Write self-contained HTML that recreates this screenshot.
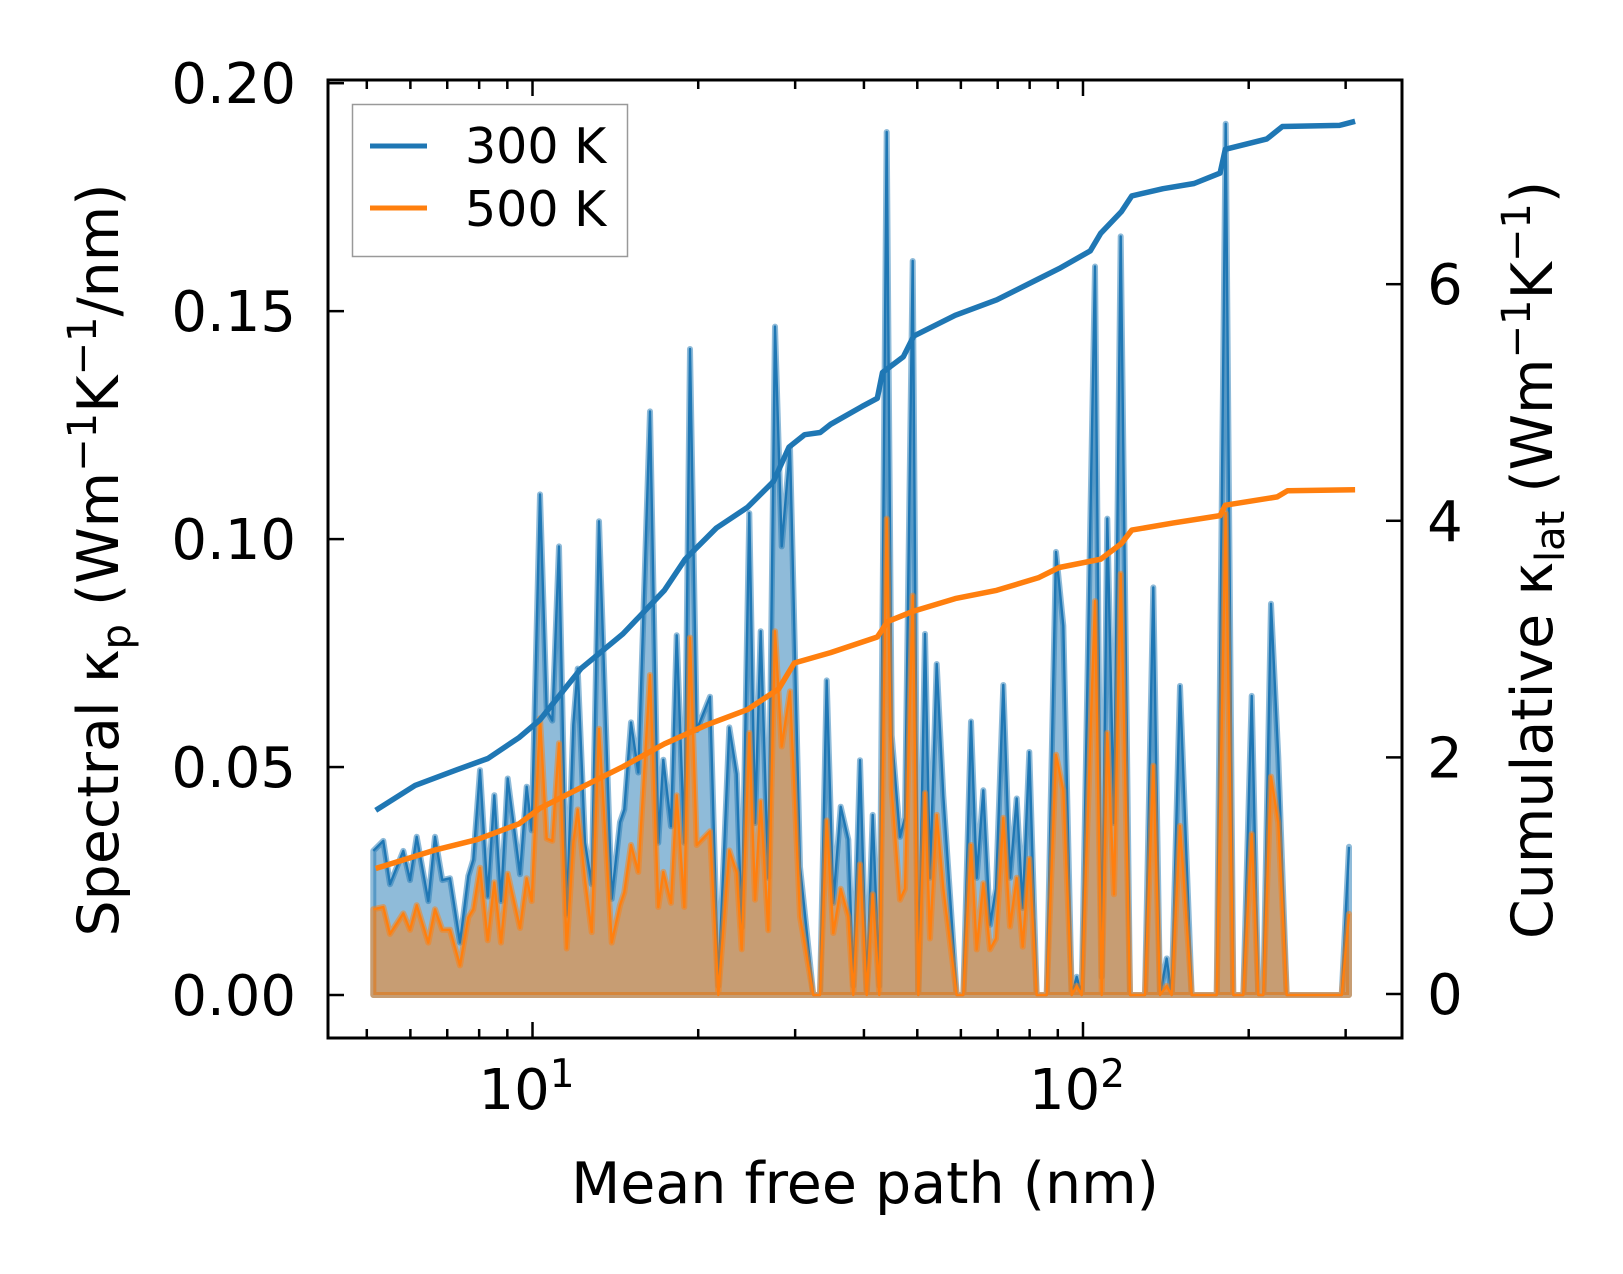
<!DOCTYPE html>
<html><head><meta charset="utf-8"><style>
html,body{margin:0;padding:0;background:#fff;}
svg{display:block;font-family:"DejaVu Sans","Liberation Sans",sans-serif;}
</style></head><body>
<svg id="chart" width="1623" height="1274" viewBox="0 0 1623 1274" xmlns="http://www.w3.org/2000/svg"></svg>
<script>
// log10 of mean free path (nm)
const logMfp = [0.7108,0.7290,0.7411,0.7653,0.7775,0.7896,0.8107,0.8229,0.8362,0.8501,0.8683,0.8834,0.8925,0.9046,0.9186,0.9306,0.9428,0.9550,0.9773,0.9895,0.9985,1.0136,1.0258,1.0360,1.0481,1.0621,1.0741,1.0821,1.0954,1.1075,1.1208,1.1438,1.1589,1.1668,1.1789,1.1922,1.2134,1.2285,1.2376,1.2516,1.2619,1.2757,1.2861,
1.2983,1.3224,1.3375,1.3575,1.3709,1.3800,1.3938,1.4042,1.4145,1.4283,1.4405,1.4527,1.4678,1.4859,1.5101,1.5223,1.5344,1.5464,1.5599,1.5737,1.5827,1.5949,1.6071,1.6180,1.6300,1.6434,1.6525,1.6676,1.6767,1.6906,1.7008,1.7130,1.7221,1.7343,1.7462,1.7706,1.7826,1.7965,1.8069,1.8189,1.8311,1.8420,1.8552,1.8674,1.8796,1.8905,1.9024,
1.9159,1.9341,1.9510,1.9642,1.9795,1.9886,1.9976,2.0218,2.0340,2.0441,2.0563,2.0685,2.0854,2.1126,2.1277,2.1399,2.1520,2.1611,2.1762,2.1975,2.2429,2.2592,2.2730,2.2912,2.3065,2.3184,2.3275,2.3415,2.3548,2.3700,2.4699,2.4832];
const spec300 = [.0316,.0338,.0243,.0316,.0252,.0347,.0206,.0347,.0252,.0256,.0115,.0261,.0297,.0493,.0216,.0438,.0206,.0475,.0265,.0457,.0361,.1098,.0625,.0602,.0984,.0175,.0593,.0716,.0334,.0243,.1039,.0211,.0379,.0407,.0598,.0488,.1280,.0334,.0516,.0370,.0789,.0334,.1417,
.0581,.0654,.002,.0587,.0485,.0148,.1057,.0377,.0798,.0257,.1466,.0984,.1201,.0281,0,0,.0690,.0202,.0413,.0341,.002,.0515,.001,.0395,.002,.1893,.0570,.0347,.0389,.1610,0,.0792,.0257,.0726,.0437,0,0,.0600,.0257,.0449,.0154,.0233,.0680,.0257,.0431,.0191,.0533,
0,0,.0972,.0810,0,.004,0,.1598,.004,.1045,.0377,.1664,0,0,.0894,0,.008,0,.0678,0,0,.1911,0,0,.0656,0,0,.0858,.0521,0,0,.0325];
const spec500 = [.0188,.0193,.0134,.0179,.0143,.0197,.0115,.0188,.0143,.0143,.0065,.0170,.0188,.0279,.0120,.0247,.0115,.0266,.0147,.0256,.0206,.0607,.0343,.0338,.0552,.0102,.0334,.0407,.0252,.0138,.0584,.0115,.0197,.0225,.0329,.0270,.0702,.0193,.0270,.0202,.0438,.0193,.0784,
.0329,.0359,0,.0317,.0269,.0100,.0575,.0209,.0425,.0142,.0798,.0545,.0666,.0172,0,0,.0383,.0136,.0233,.0172,0,.0287,0,.0221,0,.1045,.0449,.0209,.0233,.0876,0,.0443,.0124,.0395,.0233,0,0,.0329,.0100,.0245,.0100,.0124,.0389,.0150,.0257,.0106,.0299,
0,0,.0527,.0449,0,.002,0,.0864,0,.0575,.0221,.0924,0,0,.0503,0,.002,0,.0371,0,0,.1057,0,0,.0353,0,0,.0479,.0377,0,0,.0178];
// cumulative kappa (log10 mfp, value)
const cumLog300 = [0.7151,0.7868,0.8623,0.9189,0.9755,1.0132,1.0887,1.1642,1.2396,1.2774,1.3340,1.3906,1.4377,1.4660,1.4943,1.5226,1.5415,1.5981,1.6264,1.6358,1.6736,1.6925,1.7679,1.8434,1.9189,1.9566,2.0132,2.0321,2.0698,2.0887,2.1453,2.2019,2.2491,2.2585,2.3340,2.3623,2.4660,2.4943];
const cum300 = [1.553,1.763,1.895,1.991,2.167,2.316,2.754,3.044,3.412,3.675,3.939,4.114,4.333,4.623,4.728,4.746,4.816,4.965,5.035,5.254,5.386,5.561,5.737,5.868,6.044,6.132,6.281,6.430,6.614,6.746,6.807,6.851,6.939,7.140,7.228,7.333,7.342,7.377];
const cumLog500 = [0.7151,0.8245,0.9000,0.9755,1.0132,1.0887,1.1642,1.2396,1.3151,1.3906,1.4472,1.4755,1.5415,1.6264,1.6453,1.6925,1.7679,1.8434,1.9189,1.9566,2.0321,2.0698,2.0887,2.1642,2.2491,2.2585,2.3528,2.3717,2.4943];
const cum500 = [1.061,1.219,1.307,1.439,1.570,1.746,1.921,2.114,2.272,2.404,2.579,2.798,2.886,3.018,3.149,3.237,3.342,3.412,3.518,3.605,3.675,3.807,3.921,3.982,4.044,4.132,4.202,4.254,4.263];
const leftTicks = [0, 0.05, 0.10, 0.15, 0.20];
const leftTickLabels = ["0.00","0.05","0.10","0.15","0.20"];
const rightTicks = [0, 2, 4, 6];
const xMajor = [1, 2];

const L=328, R=1402, T=80, B=1038;
const xmin=0.6285, xmax=2.5795;
const yLmin=-0.00943, yLmax=0.2007;
const yRmin=-0.372, yRmax=7.726;
const sx = lg => L + (lg - xmin)/(xmax - xmin)*(R-L);
const syL = v => B - (v - yLmin)/(yLmax - yLmin)*(B-T);
const syR = v => B - (v - yRmin)/(yRmax - yRmin)*(B-T);
const NS="http://www.w3.org/2000/svg";
const svg=document.getElementById('chart');
function mk(tag, attrs, parent){const e=document.createElementNS(NS,tag);for(const k in attrs)e.setAttribute(k,attrs[k]);(parent||svg).appendChild(e);return e;}

function fillSeries(vals, color, name){
  let d='M'+sx(logMfp[0])+','+syL(0);
  vals.forEach((v,i)=>{d+=' L'+sx(logMfp[i]).toFixed(1)+','+syL(v).toFixed(1);});
  d+=' L'+sx(logMfp[logMfp.length-1])+','+syL(0)+' Z';
  const p=mk('path',{d:d,fill:color,'fill-opacity':0.5,stroke:color,'stroke-opacity':0.5,'stroke-width':6,'stroke-linejoin':'round'});
  
  
  let d2='';
  vals.forEach((v,i)=>{d2+=(i?' L':'M')+sx(logMfp[i]).toFixed(1)+','+syL(v).toFixed(1);});
  const l=mk('path',{d:d2,fill:'none',stroke:color,'stroke-width':2.4,'stroke-linejoin':'round'});
  
  
}
fillSeries(spec300,'#1f77b4','spectral-300k');
fillSeries(spec500,'#ff7f0e','spectral-500k');

function cumLine(xs, ys, color, name){
  let d='';
  xs.forEach((x,i)=>{d+=(i?' L':'M')+sx(x).toFixed(1)+','+syR(ys[i]).toFixed(1);});
  const l=mk('path',{d:d,fill:'none',stroke:color,'stroke-width':5.5,'stroke-linejoin':'round'});
  
  
}
cumLine(cumLog300, cum300, '#1f77b4', 'cumulative-300k');
cumLine(cumLog500, cum500, '#ff7f0e', 'cumulative-500k');

// frame
const fr=mk('rect',{x:L,y:T,width:R-L,height:B-T,fill:'none',stroke:'#000','stroke-width':3});



// x ticks
const xt=mk('g',{stroke:'#000','stroke-width':2.5});


for(let dec=0; dec<3; dec++){
  for(let m=1;m<10;m++){
    const lg=dec+Math.log10(m);
    if(lg<xmin||lg>xmax)continue;
    const x=sx(lg), len=(m===1)?16:9;
    mk('line',{x1:x,y1:B,x2:x,y2:B-len},xt);
    mk('line',{x1:x,y1:T,x2:x,y2:T+len},xt);
  }
}
xMajor.forEach(p=>{
  const t=mk('text',{x:sx(p)-6,y:1109,'font-size':56,'text-anchor':'middle',fill:'#000'});
  
  
  t.textContent='10';
  const s=mk('tspan',{dy:-22,'font-size':39},t); s.textContent=String(p);
});
// left ticks
leftTicks.forEach((v,i)=>{
  const y=syL(v);
  mk('line',{x1:L,y1:y,x2:L+16,y2:y,stroke:'#000','stroke-width':2.5});
  const t=mk('text',{x:296,y:y+20,'font-size':56,'text-anchor':'end',fill:'#000'});
  
  
  t.textContent=leftTickLabels[i];
});
rightTicks.forEach(v=>{
  const y=syR(v);
  mk('line',{x1:R,y1:y,x2:R-16,y2:y,stroke:'#000','stroke-width':2.5});
  const t=mk('text',{x:1445,y:y+20,'font-size':56,'text-anchor':'middle',fill:'#000'});
  
  
  t.textContent=String(v);
});
</script>
<svg style="position:absolute;left:0;top:0" width="1623" height="1274" xmlns="http://www.w3.org/2000/svg" font-family="DejaVu Sans, Liberation Sans, sans-serif">
  <text x="865" y="1203" font-size="57" text-anchor="middle">Mean free path (nm)</text>
  <text transform="translate(118,560) rotate(-90)" font-size="57" text-anchor="middle">Spectral κ<tspan font-size="40" dy="12">p</tspan><tspan dy="-12"> (Wm</tspan><tspan font-size="40" dy="-22">−1</tspan><tspan dy="22">K</tspan><tspan font-size="40" dy="-22">−1</tspan><tspan dy="22">/nm)</tspan></text>
  <text transform="translate(1552,560) rotate(-90)" font-size="57" text-anchor="middle">Cumulative κ<tspan font-size="40" dy="12">lat</tspan><tspan dy="-12"> (Wm</tspan><tspan font-size="40" dy="-22">−1</tspan><tspan dy="22">K</tspan><tspan font-size="40" dy="-22">−1</tspan><tspan dy="22">)</tspan></text>
  <g>
    <rect x="352.5" y="104.5" width="275" height="152" fill="#fff" fill-opacity="0.8" stroke="#999" stroke-width="1.5"/>
    <line x1="370" y1="146" x2="427" y2="146" stroke="#1f77b4" stroke-width="5"/>
    <text x="465" y="163" font-size="49">300 K</text>
    <line x1="370" y1="208" x2="427" y2="208" stroke="#ff7f0e" stroke-width="5"/>
    <text x="465" y="226" font-size="49">500 K</text>
  </g>
</svg>
</body></html>
